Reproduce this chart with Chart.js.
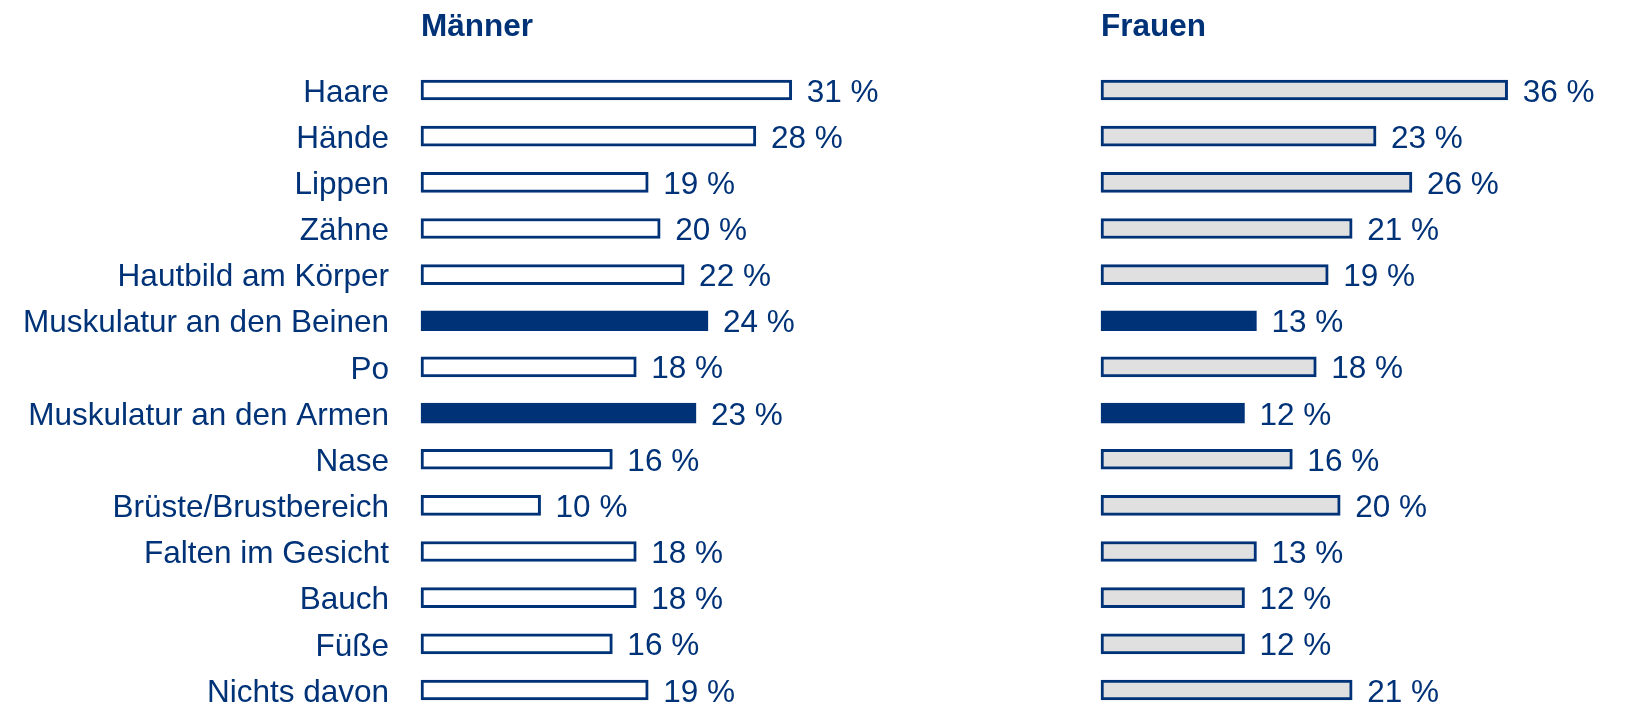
<!DOCTYPE html>
<html>
<head>
<meta charset="utf-8">
<script src="https://cdn.jsdelivr.net/npm/chart.js@4/dist/chart.umd.min.js"></script>
<style>
  html, body { margin: 0; padding: 0; background: #fff; overflow: hidden; }
  #menChart { position: absolute; left: 0; top: 0; }
  #womenChart { position: absolute; left: 1080px; top: 0; }
</style>
</head>
<body>
<canvas id="menChart" width="900" height="705"></canvas>
<canvas id="womenChart" width="552" height="705"></canvas>
<script>
// ---- data ----
const categories = [
  "Haare", "Hände", "Lippen", "Zähne", "Hautbild am Körper",
  "Muskulatur an den Beinen", "Po", "Muskulatur an den Armen", "Nase",
  "Brüste/Brustbereich", "Falten im Gesicht", "Bauch", "Füße", "Nichts davon"
];
const menValues   = [31, 28, 19, 20, 22, 24, 18, 23, 16, 10, 18, 18, 16, 19];
const womenValues = [36, 23, 26, 21, 19, 13, 18, 12, 16, 20, 13, 12, 12, 21];
const highlighted = [5, 7]; // muscle rows are filled dark
const titles = ["Männer", "Frauen"];

// ---- look ----
const NAVY = "#003278";
const FONT = "'Liberation Sans', Arial, sans-serif";
const PX_PER_PCT = 11.96;
const MEN_MAX = 40;
const WOMEN_MAX = 34; // axis is capped, the 36 % bar runs to the edge

// value labels "xx %" right of each bar
const valueLabels = {
  id: "valueLabels",
  afterDatasetsDraw(chart, args, opts) {
    const ctx = chart.ctx;
    const meta = chart.getDatasetMeta(0);
    ctx.save();
    ctx.font = "31.5px " + FONT;
    ctx.fillStyle = NAVY;
    ctx.textAlign = "left";
    ctx.textBaseline = "alphabetic";
    meta.data.forEach((bar, i) => {
      ctx.fillText(opts.values[i] + " %", bar.x + 15, bar.y + 11.5);
    });
    ctx.restore();
  }
};

// bold panel heading, flush with the bars
const panelTitle = {
  id: "panelTitle",
  afterDraw(chart, args, opts) {
    const ctx = chart.ctx;
    ctx.save();
    ctx.font = "bold 31.5px " + FONT;
    ctx.fillStyle = NAVY;
    ctx.textAlign = "left";
    ctx.textBaseline = "alphabetic";
    ctx.fillText(opts.text, chart.chartArea.left, 36);
    ctx.restore();
  }
};

function makeChart(id, values, max, baseFill, showLabels, leftPad) {
  const canvas = document.getElementById(id);
  const axisWidth = showLabels ? 421 : 0;
  const plotWidth = max * PX_PER_PCT;
  const rightPad = canvas.width - (leftPad + axisWidth + plotWidth);

  const fills = values.map((v, i) => highlighted.includes(i) ? NAVY : baseFill);

  return new Chart(canvas.getContext("2d"), {
    type: "bar",
    data: {
      labels: categories,
      datasets: [{
        data: values.map(v => Math.min(v, max)),
        backgroundColor: fills,
        borderColor: NAVY,
        borderWidth: 3,
        borderSkipped: false,
        barThickness: 20,
        clip: false
      }]
    },
    options: {
      indexAxis: "y",
      responsive: false,
      animation: false,
      events: [],
      layout: { padding: { top: 90, bottom: 15, left: leftPad, right: rightPad } },
      scales: {
        x: { display: false, min: 0, max: max },
        y: {
          display: showLabels,
          offset: false,
          grid: { display: false, drawTicks: false },
          border: { display: false },
          ticks: {
            autoSkip: false,
            padding: 32,
            labelOffset: 3,
            color: NAVY,
            font: { family: FONT, size: 31.5 }
          },
          afterFit: (scale) => {
            scale.width = axisWidth;
            scale.paddingTop = 0;
            scale.paddingBottom = 0;
          }
        }
      },
      plugins: {
        legend: { display: false },
        tooltip: { enabled: false },
        valueLabels: { values: values },
        panelTitle: { text: showLabels ? titles[0] : titles[1] }
      }
    },
    plugins: [valueLabels, panelTitle]
  });
}

makeChart("menChart", menValues, MEN_MAX, "#ffffff", true, 0);
makeChart("womenChart", womenValues, WOMEN_MAX, "#e0e0e0", false, 21);
</script>
</body>
</html>
